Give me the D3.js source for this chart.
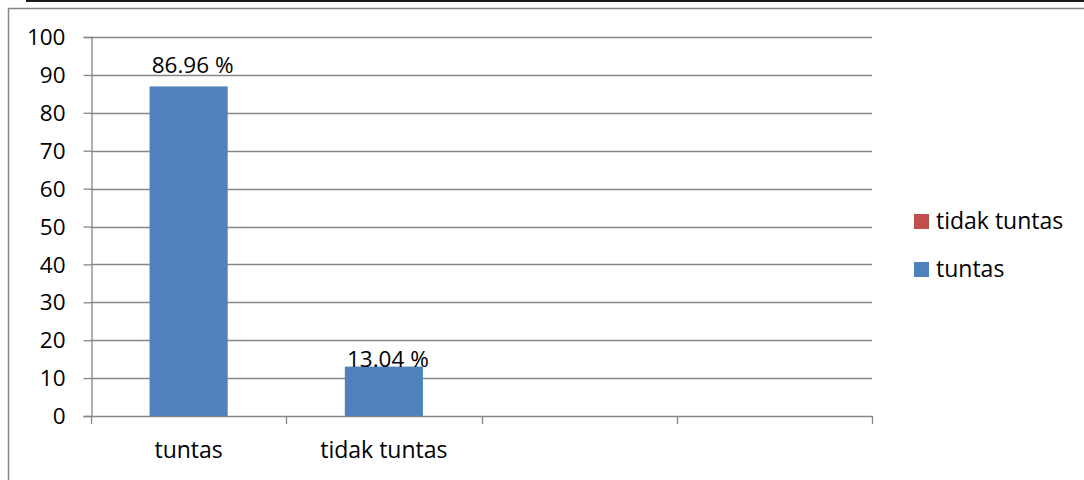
<!DOCTYPE html>
<html>
<head>
<meta charset="utf-8">
<script src="https://cdn.jsdelivr.net/npm/d3@7"></script>
<style>
  body { margin: 0; background: #fff; }
  svg { display: block; font-family: "Open Sans", sans-serif; }
</style>
</head>
<body>
<div class="chart"></div>
<script>
// column chart: tuntas / tidak tuntas

var categories = ["tuntas", "tidak tuntas", "", ""];
var values = [86.96, 13.04, null, null];
var valueLabels = ["86.96 %", "13.04 %", "", ""];
var yTicks = [0, 10, 20, 30, 40, 50, 60, 70, 80, 90, 100];
var legendSeries = ["tidak tuntas", "tuntas"];

var width = 1084,
	height = 480,
	plot = {left: 91, right: 872, top: 37, bottom: 416},
	gridColor = "#868686",
	barColor = "#4F81BD",
	seriesColor = {"tidak tuntas": "#C0504D", "tuntas": "#4F81BD"};

var svg = d3.select(".chart").append("svg")
	.attr("width", width)
	.attr("height", height);

svg.append("rect").attr("width", width).attr("height", height).attr("fill", "#fff");

// page line above the chart + chart frame
svg.append("line")
	.attr("x1", 26).attr("x2", width).attr("y1", 1).attr("y2", 1)
	.attr("stroke", "#1a1a1a").attr("stroke-width", 2);
svg.append("path")
	.attr("d", "M8.5," + height + "V8.5H" + width)
	.attr("fill", "none").attr("stroke", gridColor).attr("stroke-width", 1.5);

var x = d3.scaleBand().domain(d3.range(categories.length)).range([plot.left, plot.right]).padding(0),
	y = d3.scaleLinear().domain([0, 100]).range([plot.bottom, plot.top]);

// gridlines
svg.append("g").selectAll("line")
	.data(yTicks.filter(function(d) { return d > 0; }))
	.enter().append("line")
	.attr("x1", plot.left).attr("x2", plot.right)
	.attr("y1", function(d) { return Math.round(y(d)) + 0.5; })
	.attr("y2", function(d) { return Math.round(y(d)) + 0.5; })
	.attr("stroke", gridColor).attr("stroke-width", 1.3);

// y axis
var yAxis = svg.append("g")
	.attr("transform", "translate(" + (plot.left + 0.5) + ",0)")
	.call(d3.axisLeft(y).tickValues(yTicks).tickSize(8).tickPadding(18))
	.style("font-size", "22.5px")
	.style("font-family", "Open Sans, sans-serif");
yAxis.selectAll("path, line").attr("stroke", gridColor).attr("stroke-width", 1.3);
yAxis.selectAll("text").attr("fill", "#000").attr("dy", "0.34em");

// x axis with ticks on the category boundaries
var xg = svg.append("g");
xg.append("line")
	.attr("x1", plot.left).attr("x2", plot.right)
	.attr("y1", plot.bottom + 0.5).attr("y2", plot.bottom + 0.5)
	.attr("stroke", gridColor).attr("stroke-width", 1.3);
xg.selectAll(".tick")
	.data(d3.range(categories.length + 1))
	.enter().append("line")
	.attr("x1", function(i) { return Math.round(plot.left + i * x.step()) + 0.5; })
	.attr("x2", function(i) { return Math.round(plot.left + i * x.step()) + 0.5; })
	.attr("y1", plot.bottom).attr("y2", plot.bottom + 8)
	.attr("stroke", gridColor).attr("stroke-width", 1.3);
xg.selectAll("text")
	.data(categories)
	.enter().append("text")
	.attr("x", function(d, i) { return x(i) + x.bandwidth() / 2; })
	.attr("y", 458)
	.attr("text-anchor", "middle")
	.style("font-size", "23px")
	.text(function(d) { return d; });

// bars
var barW = x.bandwidth() * 0.4;
var data = values.map(function(v, i) { return {i: i, value: v, label: valueLabels[i]}; })
	.filter(function(d) { return d.value != null; });

svg.append("g").selectAll("rect")
	.data(data)
	.enter().append("rect")
	.attr("x", function(d) { return x(d.i) + (x.bandwidth() - barW) / 2; })
	.attr("y", function(d) { return y(d.value); })
	.attr("width", barW)
	.attr("height", function(d) { return y(0) - y(d.value); })
	.attr("fill", barColor);

// data labels (second one sits right on top of its bar)
svg.append("g").selectAll("text")
	.data(data)
	.enter().append("text")
	.attr("x", function(d) { return x(d.i) + x.bandwidth() / 2 + 4; })
	.attr("y", function(d) { return y(d.value); })
	.attr("dy", function(d, i) { return i === 0 ? -13 : 0; })
	.attr("text-anchor", "middle")
	.style("font-size", "22.5px")
	.text(function(d) { return d.label; });

// legend
var legend = svg.append("g").selectAll("g")
	.data(legendSeries)
	.enter().append("g")
	.attr("transform", function(d, i) { return "translate(914," + (214 + i * 48) + ")"; });
legend.append("rect")
	.attr("width", 15).attr("height", 15)
	.attr("fill", function(d) { return seriesColor[d]; });
legend.append("text")
	.attr("x", 22).attr("y", 15)
	.style("font-size", "23px")
	.text(function(d) { return d; });
</script>
</body>
</html>
